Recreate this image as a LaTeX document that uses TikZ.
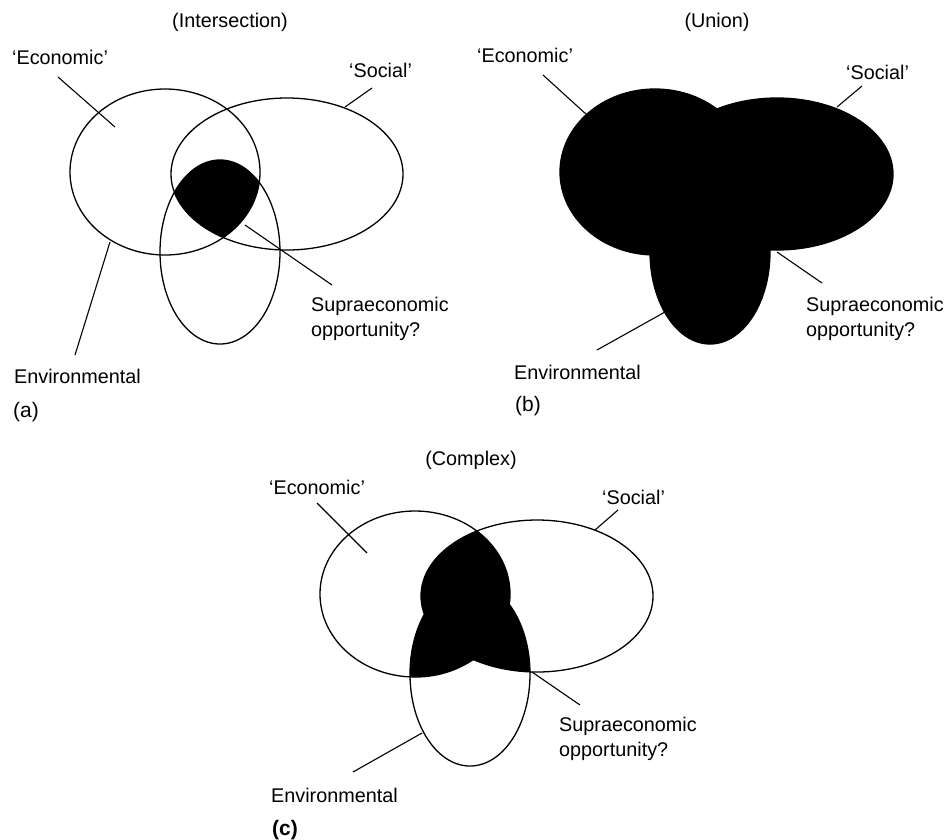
\documentclass[tikz,border=0pt]{standalone}
\usepackage{fontspec}
\setmainfont{Liberation Sans}
\begin{document}
\begin{tikzpicture}[x=1pt,y=-1pt,
  lbl/.style={inner sep=0pt, font=\fontsize{19.8}{25}\selectfont},
  tag/.style={inner sep=0pt, font=\fontsize{21}{25}\selectfont},
  lead/.style={line width=1.1pt},
  outl/.style={line width=1.3pt}]
\useasboundingbox (0,0) rectangle (949,839);
\def\econP{(165,172) ellipse [x radius=95pt, y radius=83pt]}
\def\socP{(287,174) ellipse [x radius=116pt, y radius=76pt]}
\def\envP{(220,252) ellipse [x radius=60pt, y radius=92pt]}

% ---------- (a) Intersection ----------
\begin{scope}
  \clip \econP; \clip \envP; \fill[black] \socP;
\end{scope}
\draw[outl] \econP; \draw[outl] \socP; \draw[outl] \envP;
\node[lbl] (ta) at (230,22) {(Intersection)};
\node[lbl, anchor=west] (ea) at (12,57) {`Economic'};
\node[lbl, anchor=west] (sa) at (349,70) {`Social'};
\node[lbl, anchor=north west, align=left] (pa) at (311,297) {Supraeconomic\\opportunity?};
\node[lbl, anchor=west] (va) at (14,376) {Environmental};
\node[tag, anchor=west] (la) at (13,412) {(a)};
\coordinate (ea1) at (58,77);   \coordinate (ea2) at (115,127);
\coordinate (sa1) at (372,88);  \coordinate (sa2) at (345,107);
\coordinate (va1) at (110,242); \coordinate (va2) at (75,355);
\coordinate (pa1) at (245,225); \coordinate (pa2) at (332,285);
\draw[lead] (ea1) -- (ea2);
\draw[lead] (sa1) -- (sa2);
\draw[lead] (va1) -- (va2);
\draw[lead] (pa1) -- (pa2);

% ---------- (b) Union ----------
\begin{scope}[shift={(490,0)}]
  \fill[black] \econP; \fill[black] \socP; \fill[black] \envP;
  \draw[outl] \econP; \draw[outl] \socP; \draw[outl] \envP;
\end{scope}
\node[lbl] (tb) at (717,22) {(Union)};
\node[lbl, anchor=west] (eb) at (477,55) {`Economic'};
\node[lbl, anchor=west] (sb) at (846,72) {`Social'};
\node[lbl, anchor=north west, align=left] (pb) at (806,297) {Supraeconomic\\opportunity?};
\node[lbl, anchor=west] (vb) at (514,372) {Environmental};
\node[tag, anchor=west] (lb) at (515,406) {(b)};
\coordinate (eb1) at (543,75);  \coordinate (eb2) at (587,115);
\coordinate (sb1) at (862,86);  \coordinate (sb2) at (837,107);
\coordinate (pb1) at (777,252); \coordinate (pb2) at (822,283);
\coordinate (vb1) at (665,312); \coordinate (vb2) at (597,350);
\draw[lead] (eb1) -- (eb2);
\draw[lead] (sb1) -- (sb2);
\draw[lead] (pb1) -- (pb2);
\draw[lead] (vb1) -- (vb2);

% ---------- (c) Complex ----------
\begin{scope}[shift={(250,422)}]
  \begin{scope}\clip \econP; \fill[black] \socP; \end{scope}
  \begin{scope}\clip \econP; \fill[black] \envP; \end{scope}
  \begin{scope}\clip \socP; \fill[black] \envP; \end{scope}
  \draw[outl] \econP; \draw[outl] \socP; \draw[outl] \envP;
\end{scope}
\node[lbl] (tc) at (471,460) {(Complex)};
\node[lbl, anchor=west] (ec) at (269,487) {`Economic'};
\node[lbl, anchor=west] (sc) at (602,497) {`Social'};
\node[lbl, anchor=north west, align=left] (pc) at (559,717) {Supraeconomic\\opportunity?};
\node[lbl, anchor=west] (vc) at (271,795) {Environmental};
\node[tag, anchor=west, font=\fontsize{21}{25}\selectfont\bfseries] (lc) at (272,830) {(c)};
\coordinate (ec1) at (317,503); \coordinate (ec2) at (367,553);
\coordinate (sc1) at (618,510); \coordinate (sc2) at (595,530);
\coordinate (pc1) at (532,672); \coordinate (pc2) at (580,705);
\coordinate (vc1) at (422,733); \coordinate (vc2) at (353,772);
\draw[lead] (ec1) -- (ec2);
\draw[lead] (sc1) -- (sc2);
\draw[lead] (pc1) -- (pc2);
\draw[lead] (vc1) -- (vc2);
\end{tikzpicture}
\end{document}
